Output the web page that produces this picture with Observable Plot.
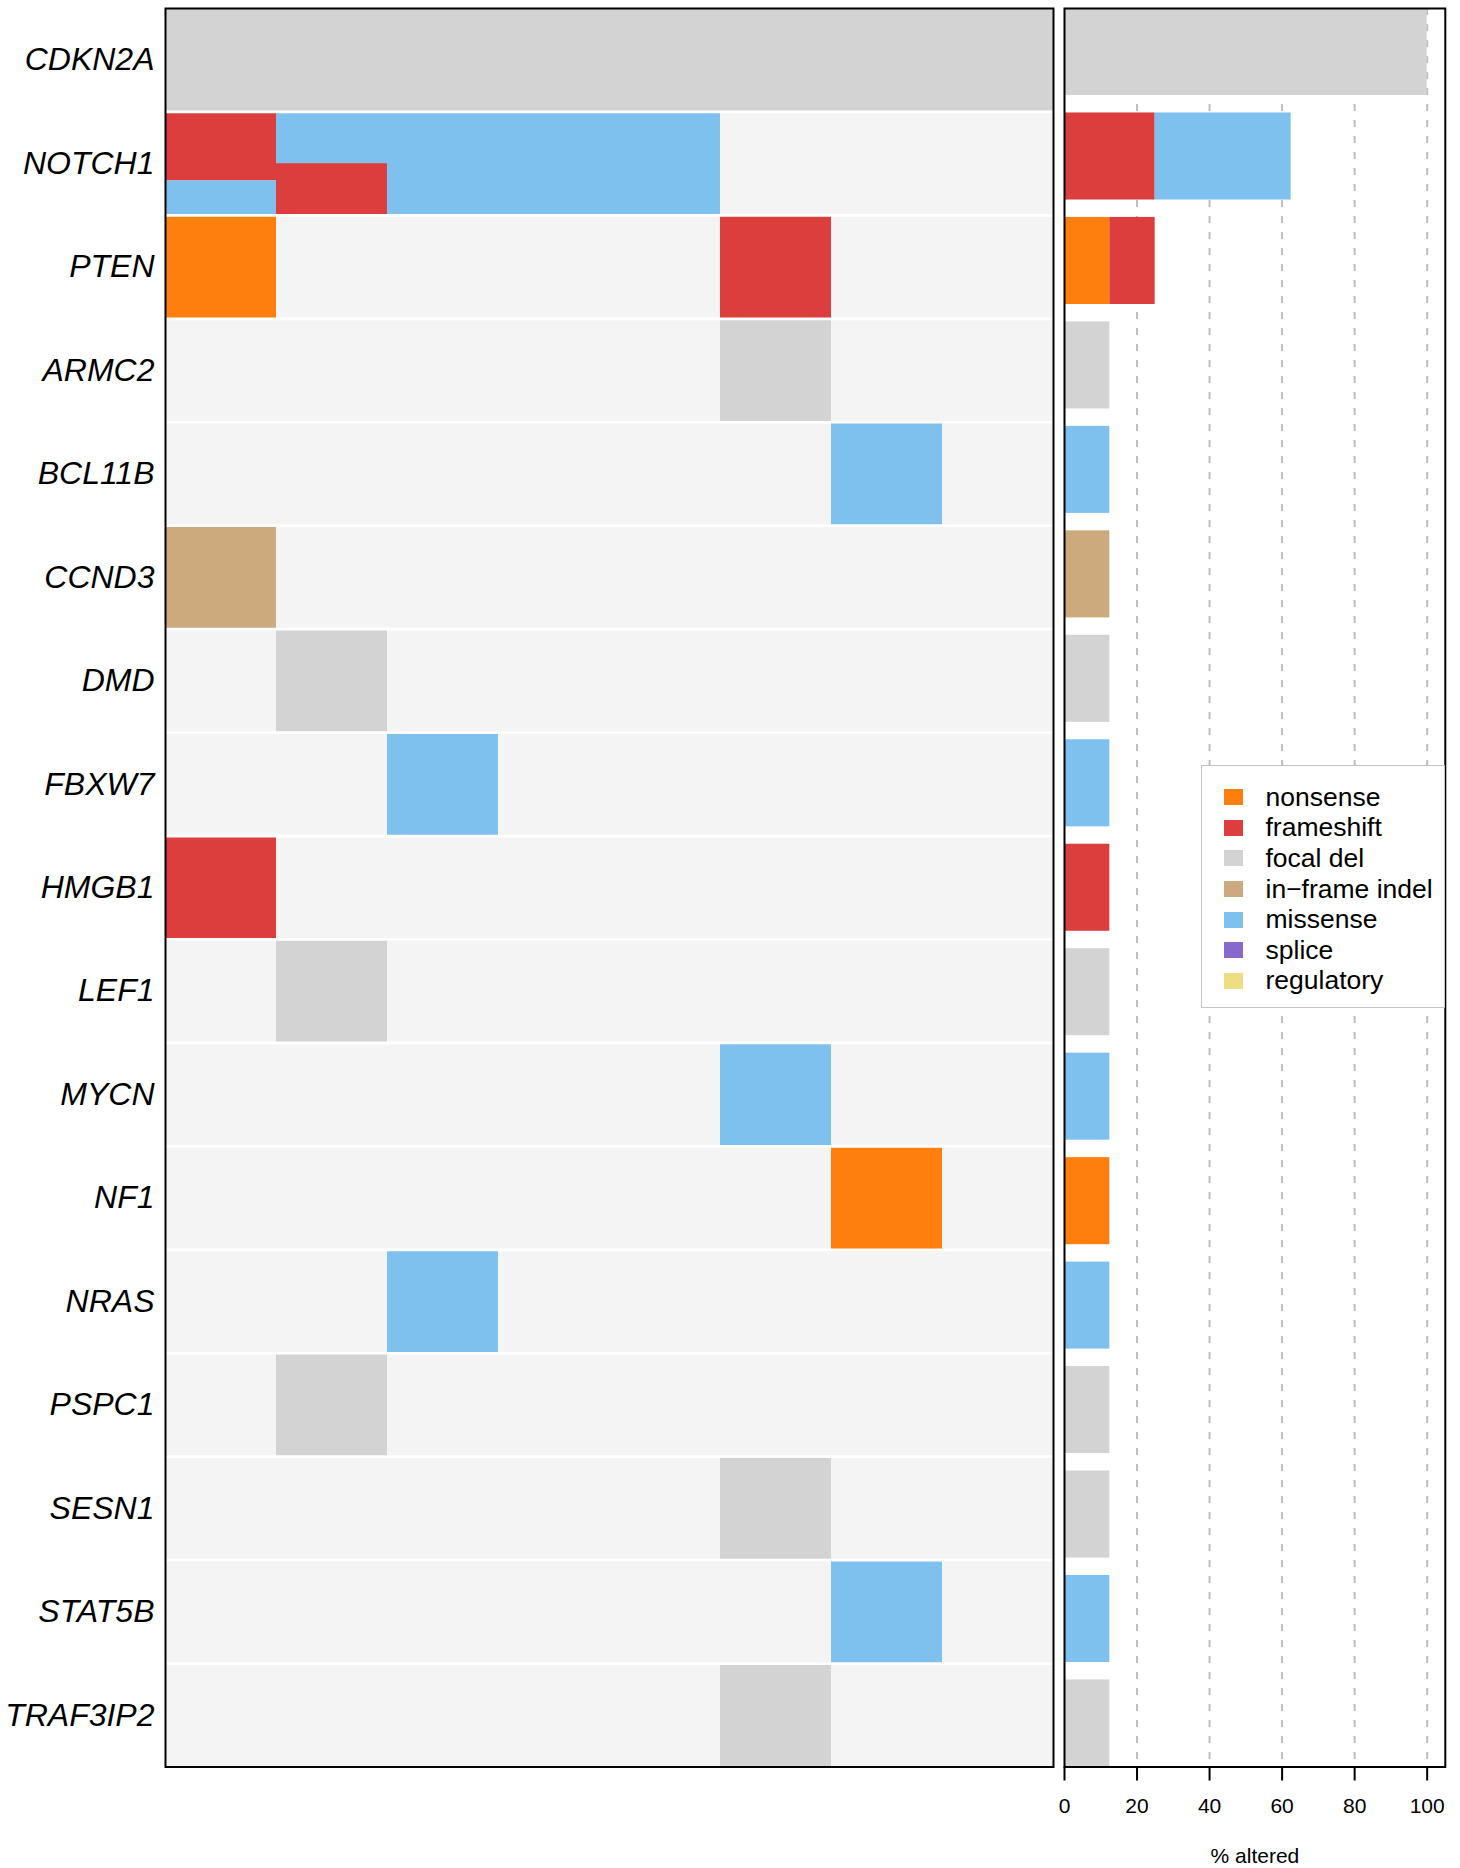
<!DOCTYPE html>
<html><head><meta charset="utf-8">
<script src="https://cdn.jsdelivr.net/npm/d3@7"></script>
<script src="https://cdn.jsdelivr.net/npm/@observablehq/plot@0.6"></script>
<style>
body{margin:0;background:#fff;font-family:"Liberation Sans",Arial,sans-serif;}
#wrap{position:relative;width:1460px;height:1868px;}
#left{position:absolute;left:0;top:0;}
#right{position:absolute;left:1058px;top:0;}
#legend{position:absolute;left:1201px;top:765px;width:244px;height:243px;box-sizing:border-box;border:1.5px solid #c4c4c4;background:#fff;padding:16px 0 0 21.5px;}
.row{height:30.6px;display:flex;align-items:center;font-size:26.5px;color:#000;white-space:nowrap;}
.sw{width:19px;height:16px;margin-right:23px;flex:none;}
</style></head><body>
<div id="wrap"><div id="left"></div><div id="right"></div><div id="legend"></div></div>
<script>
// ---- data ----
const genes = ["CDKN2A","NOTCH1","PTEN","ARMC2","BCL11B","CCND3","DMD","FBXW7","HMGB1","LEF1","MYCN","NF1","NRAS","PSPC1","SESN1","STAT5B","TRAF3IP2"];
const samples = [1,2,3,4,5,6,7,8];
const types = ["nonsense","frameshift","focal del","in\u2212frame indel","missense","splice","regulatory"];
const typeColors = ["#FF7F0E","#DC3D3D","#D3D3D3","#CDAA7D","#7FC1EE","#8968CD","#EEDD82"];

// oncoprint cells: gene, sample, list of alterations in that cell
const altGene    = ["CDKN2A","CDKN2A","CDKN2A","CDKN2A","CDKN2A","CDKN2A","CDKN2A","CDKN2A",
                    "NOTCH1","NOTCH1","NOTCH1","NOTCH1","NOTCH1",
                    "PTEN","PTEN","ARMC2","BCL11B","CCND3","DMD","FBXW7","HMGB1","LEF1",
                    "MYCN","NF1","NRAS","PSPC1","SESN1","STAT5B","TRAF3IP2"];
const altSample  = [1,2,3,4,5,6,7,8,
                    1,2,3,4,5,
                    1,6,6,7,1,2,3,1,2,
                    6,7,3,2,6,7,6];
const altTypes   = [["focal del"],["focal del"],["focal del"],["focal del"],["focal del"],["focal del"],["focal del"],["focal del"],
                    ["frameshift","frameshift","missense"],["missense","frameshift"],["missense"],["missense"],["missense"],
                    ["nonsense"],["frameshift"],["focal del"],["missense"],["in\u2212frame indel"],["focal del"],["missense"],["frameshift"],["focal del"],
                    ["missense"],["nonsense"],["missense"],["focal del"],["focal del"],["missense"],["focal del"]];

// % altered bars
const barGene = ["CDKN2A","NOTCH1","NOTCH1","PTEN","PTEN","ARMC2","BCL11B","CCND3","DMD","FBXW7","HMGB1","LEF1","MYCN","NF1","NRAS","PSPC1","SESN1","STAT5B","TRAF3IP2"];
const barType = ["focal del","frameshift","missense","nonsense","frameshift","focal del","missense","in\u2212frame indel","focal del","missense","frameshift","focal del","missense","nonsense","missense","focal del","focal del","missense","focal del"];
const barPct  = [100,25,37.5,12.5,12.5,12.5,12.5,12.5,12.5,12.5,12.5,12.5,12.5,12.5,12.5,12.5,12.5,12.5,12.5];
const xTicks = [0,20,40,60,80,100];
const xLabel = "% altered";

// ---- derived tables: split each cell into equal parts, merging consecutive same-type parts ----
const pieces = [];
altGene.forEach((g, i) => {
  const ts = altTypes[i], n = ts.length;
  let k = 0;
  while (k < n) {
    let j = k;
    while (j + 1 < n && ts[j + 1] === ts[k]) j++;
    pieces.push({gene: g, gi: genes.indexOf(g), sample: altSample[i], type: ts[k], f0: k / n, f1: (j + 1) / n});
    k = j + 1;
  }
});
const bars = barGene.map((g, i) => ({gene: g, type: barType[i], pct: barPct[i]}));
const totals = Array.from(d3.rollup(bars, v => d3.sum(v, d => d.pct), d => d.gene), ([gene, total]) => ({gene, total}));

const color = {domain: types, range: typeColors};
const font = "'Liberation Sans', Arial, Helvetica, sans-serif";

// ---- left: oncoprint ----
const left = Plot.plot({
  width: 1058, height: 1868,
  marginLeft: 165, marginRight: 5, marginTop: 8, marginBottom: 101.5,
  style: {background: "transparent", fontFamily: font},
  x: {domain: [0, samples.length], axis: null},
  y: {domain: [genes.length, 0], axis: null},
  color,
  marks: [
    Plot.frame({fill: "#F4F4F4", stroke: null}),
    Plot.rect(pieces, {
      x1: d => d.sample - 1, x2: d => d.sample,
      y1: d => d.gi + d.f0, y2: d => d.gi + d.f1,
      fill: "type"
    }),
    Plot.ruleY(d3.range(1, genes.length), {stroke: "white", strokeWidth: 2.7}),
    Plot.text(genes, {y: (d, i) => i + 0.5, text: d => d, frameAnchor: "left", dx: -11, textAnchor: "end",
      fontSize: 32, fontStyle: "italic", fill: "black"}),
    Plot.frame({stroke: "black", strokeWidth: 2})
  ]
});
document.getElementById("left").appendChild(left);

// ---- right: % altered ----
const right = Plot.plot({
  width: 402, height: 1868,
  marginLeft: 6, marginRight: 15.2, marginTop: 8, marginBottom: 101.5,
  style: {background: "transparent", fontFamily: font, fontSize: "21px", color: "black"},
  x: {domain: [0, 105], axis: null},
  y: {type: "band", domain: genes, paddingInner: 1/6, paddingOuter: 0, round: false, axis: null},
  color,
  marks: [
    Plot.ruleX(xTicks.filter(v => v > 0), {stroke: "#BEBEBE", strokeWidth: 2, strokeDasharray: "7,9"}),
    Plot.barX(bars, {x: "pct", y: "gene", fill: "type"}),
    Plot.ruleX(totals, {x: "total", y: "gene", stroke: typeColors[types.indexOf("regulatory")], strokeWidth: 1.3}),
    Plot.frame({stroke: "black", strokeWidth: 2}),
    Plot.axisX({ticks: xTicks, anchor: "bottom", tickSize: 14, tickPadding: 17, fontSize: 21, strokeWidth: 2, label: null}),
    Plot.text([xLabel], {frameAnchor: "bottom", dy: 89, lineAnchor: "middle", fontSize: 21, fill: "black"})
  ]
});
document.getElementById("right").appendChild(right);

// ---- legend ----
const lg = document.getElementById("legend");
types.forEach((t, i) => {
  const row = document.createElement("div");
  row.className = "row";
  const sw = document.createElement("span");
  sw.className = "sw";
  sw.style.background = typeColors[i];
  const lab = document.createElement("span");
  lab.textContent = t;
  row.appendChild(sw); row.appendChild(lab);
  lg.appendChild(row);
});
</script>
</body></html>
